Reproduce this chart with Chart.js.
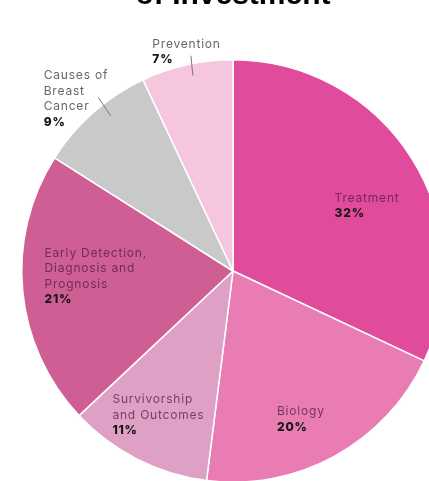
<!DOCTYPE html>
<html>
<head>
<meta charset="utf-8">
<script src="https://cdn.jsdelivr.net/npm/chart.js@4"></script>
<style>
  html, body { margin: 0; padding: 0; background: #fff; overflow: hidden; }
  #wrap { position: relative; width: 470px; height: 500px; }
</style>
</head>
<body>
<div id="wrap"><canvas id="pieChart" width="470" height="500"></canvas></div>
<script>
// research areas, clockwise from 12 o'clock
const categories = [
  ['Treatment'],
  ['Biology'],
  ['Survivorship', 'and Outcomes'],
  ['Early Detection,', 'Diagnosis and', 'Prognosis'],
  ['Causes of', 'Breast', 'Cancer'],
  ['Prevention']
];
const shares = [32, 20, 11, 21, 9, 7];
const sliceColors = ['#e04c9b', '#e97db3', '#dea0c4', '#cf5e95', '#c9c9c9', '#f5c6dd'];

// where each label block sits, in units of the pie radius from its centre
const labelSpots = [[0.481, -0.344], [0.208, 0.665], [-0.571, 0.608], [-0.892, -0.085], [-0.896, -0.925], [-0.382, -1.075]];
// short pointer lines for the labels that sit outside the pie
const pointers = [null, null, null, null, [[-0.637, -0.821], [-0.580, -0.736]], [[-0.199, -1.019], [-0.190, -0.925]]];
const insideLabel = [true, true, true, true, false, false];

const FONT = 'Inter, "Open Sans", sans-serif';

const sliceLabels = {
  id: 'sliceLabels',
  afterDatasetsDraw(chart) {
    const ctx = chart.ctx;
    const arcs = chart.getDatasetMeta(0).data;
    if (!arcs.length) return;
    const cx = arcs[0].x, cy = arcs[0].y, r = arcs[0].outerRadius;
    ctx.save();
    ctx.textAlign = 'left';
    ctx.textBaseline = 'middle';
    ctx.letterSpacing = '0.8px';
    categories.forEach((lines, i) => {
      const x = cx + labelSpots[i][0] * r;
      let y = cy + labelSpots[i][1] * r;
      ctx.font = '400 12px ' + FONT;
      ctx.fillStyle = insideLabel[i] ? 'rgba(70, 25, 60, 0.72)' : '#666666';
      lines.forEach(t => { ctx.fillText(t, x, y); y += 15.5; });
      ctx.font = '800 12px ' + FONT;
      ctx.fillStyle = '#161616';
      ctx.fillText(shares[i] + '%', x, y);
      const p = pointers[i];
      if (p) {
        ctx.beginPath();
        ctx.moveTo(cx + p[0][0] * r, cy + p[0][1] * r);
        ctx.lineTo(cx + p[1][0] * r, cy + p[1][1] * r);
        ctx.strokeStyle = '#777777';
        ctx.lineWidth = 1;
        ctx.stroke();
      }
    });
    ctx.restore();
  }
};

// heading whose last line peeks in at the top edge
const heading = {
  id: 'heading',
  afterDraw(chart) {
    const ctx = chart.ctx;
    const arcs = chart.getDatasetMeta(0).data;
    ctx.save();
    ctx.font = 'bold 30px "Liberation Sans", Arial, sans-serif';
    ctx.fillStyle = '#000';
    ctx.textAlign = 'center';
    ctx.textBaseline = 'alphabetic';
    ctx.fillText('of Investment', arcs[0].x, 4);
    ctx.restore();
  }
};

function createChart() {
  const ctx = document.getElementById('pieChart');
  new Chart(ctx, {
    type: 'pie',
    data: {
      labels: categories.map(l => l.join(' ')),
      datasets: [{
        data: shares,
        backgroundColor: sliceColors,
        borderColor: '#ffffff',
        borderWidth: 1.5
      }]
    },
    options: {
      responsive: false,
      animation: false,
      layout: { padding: { left: 21, top: 59, right: 25, bottom: 17 } },
      plugins: {
        legend: { display: false },
        tooltip: { enabled: false }
      }
    },
    plugins: [sliceLabels, heading]
  });
}

if (typeof Chart === 'undefined') {
  window.addEventListener('load', createChart);
} else {
  createChart();
}
</script>
</body>
</html>
